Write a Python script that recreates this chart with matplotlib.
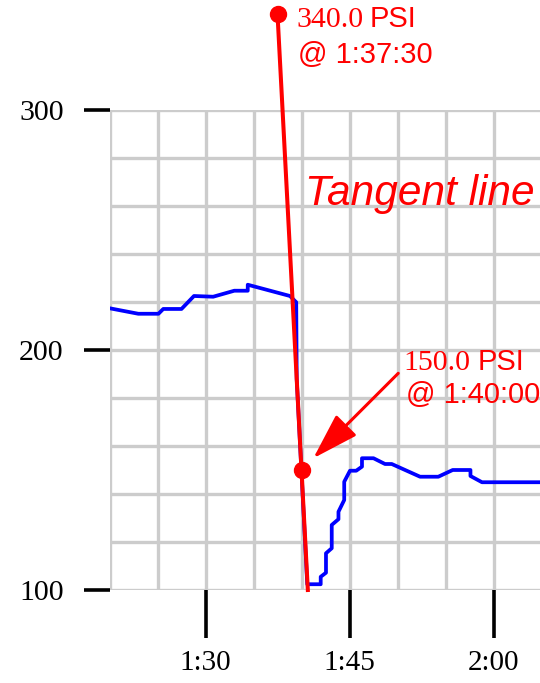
import matplotlib
matplotlib.use("Agg")
import matplotlib.pyplot as plt
from matplotlib.ticker import MultipleLocator, FixedLocator

# time in minutes after 0:00, pressure in PSI
t_min = [80.0, 83.0, 85.1, 85.6, 87.5, 88.8, 90.8, 93.0, 94.4, 94.4, 98.8, 99.45,
         99.5, 100.6, 102.0, 102.0, 102.55, 102.55, 103.15, 103.15, 103.85, 103.85,
         104.45, 104.45, 105.05, 105.7, 106.3, 106.3, 107.5, 108.7, 109.4, 112.35,
         114.25, 115.75, 117.6, 117.6, 118.8, 125.0]
psi = [217.4, 215.1, 215.1, 217.1, 217.1, 222.5, 222.2, 224.7, 224.7, 227.2, 222.5, 219.9,
       188.0, 102.4, 102.4, 105.5, 107.2, 115.3, 117.4, 127.1, 129.5, 132.6,
       137.5, 145.1, 149.7, 149.7, 151.4, 154.9, 154.9, 152.5, 152.5, 147.2,
       147.2, 150.0, 150.0, 147.5, 144.9, 144.9]

# tangent line points
tan_t = [97.5, 100.0, 100.66]
tan_psi = [340.0, 150.0, 100.0]

xticks = [90, 105, 120]
xtick_labels = ["1:30", "1:45", "2:00"]
yticks = [100, 200, 300]

W, H = 540, 683
fig = plt.figure(figsize=(W / 100, H / 100), dpi=100)
ax = fig.add_axes([109.5 / W, (H - 590) / H, 1 - 109.5 / W, 480 / H])

ax.set_xlim(80, 80 + 430.5 / 9.6)
ax.set_ylim(100, 300)

ax.xaxis.set_major_locator(FixedLocator(xticks))
ax.xaxis.set_minor_locator(MultipleLocator(5))
ax.yaxis.set_major_locator(FixedLocator(yticks))
ax.yaxis.set_minor_locator(MultipleLocator(20))
ax.set_xticklabels(xtick_labels)

ax.grid(which="both", color="#cccccc", linewidth=2.4)
ax.set_axisbelow(True)
for s in ax.spines.values():
    s.set_visible(False)

serif = "Liberation Serif"
sans = "Liberation Sans"

ax.tick_params(axis="x", which="major", length=34.5, width=2.6, pad=9,
               labelsize=21, colors="black")
ax.tick_params(axis="y", which="major", length=19, width=2.6, pad=14,
               labelsize=21.5, colors="black")
ax.tick_params(which="minor", length=0)
for lab in ax.get_xticklabels() + ax.get_yticklabels():
    lab.set_fontfamily(serif)

ax.plot(t_min, psi, color="#0000ff", linewidth=2.7, zorder=3)
ax.plot(tan_t, tan_psi, color="#ff0000", linewidth=2.9, zorder=4, clip_on=False)
ax.plot(tan_t[:2], tan_psi[:2], "o", color="#ff0000", markersize=11.5,
        zorder=5, clip_on=False)

ax.annotate("", xy=(101.23, 154.9), xytext=(110.08, 190.3),
            arrowprops=dict(arrowstyle="-|>,head_length=1.45,head_width=0.45",
                            color="#ff0000", lw=2.2, shrinkA=0, shrinkB=0,
                            mutation_scale=20), zorder=5)


def px(x, y):
    return x / W, 1 - y / H


red = "#ff0000"
fig.text(*px(296, 26.7), "340.0", family=serif, size=21.5, color=red, va="baseline")
fig.text(*px(370, 26.7), "PSI", family=sans, size=21, color=red, va="baseline")
fig.text(*px(298, 63.3), "@ 1:37:30", family=sans, size=21, color=red, va="baseline")

fig.text(*px(403, 370), "150.0", family=serif, size=21.5, color=red, va="baseline")
fig.text(*px(478, 370), "PSI", family=sans, size=21, color=red, va="baseline")
fig.text(*px(406.5, 403.3), "@ 1:40:00", family=sans, size=21, color=red, va="baseline")

fig.text(*px(305, 205), "Tangent line", family=sans, style="italic", size=30.5,
         color=red, va="baseline")

fig.savefig("out.png", dpi=100)
